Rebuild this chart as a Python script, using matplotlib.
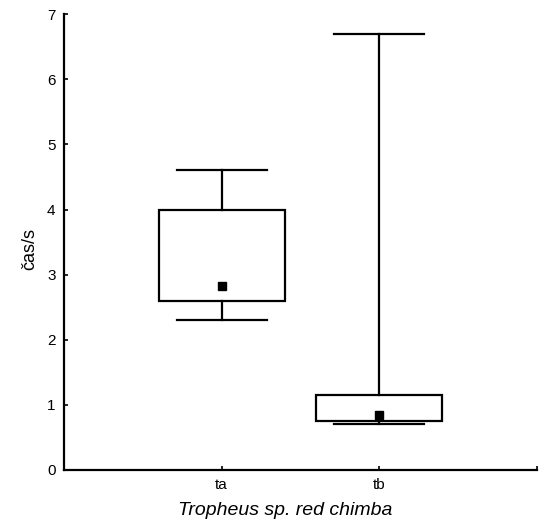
import matplotlib
matplotlib.use("Agg")
import matplotlib.pyplot as plt

plt.rcParams['font.family'] = ['Liberation Sans', 'DejaVu Sans']

groups = ["ta", "tb"]
whisker_low = [2.3, 0.7]
box_low = [2.6, 0.75]
median = [2.83, 0.84]
box_high = [4.0, 1.15]
whisker_high = [4.6, 6.7]

fig = plt.figure(figsize=(5.46, 5.26), dpi=100)
ax = fig.add_axes([0.117, 0.1065, 0.8665, 0.8665])

box_w = 0.8
cap_w = 0.57
lw = 1.6
for i, g in enumerate(groups):
    x = i + 1
    ax.add_patch(plt.Rectangle((x - box_w / 2, box_low[i]), box_w, box_high[i] - box_low[i],
                               fill=False, edgecolor='black', linewidth=lw, zorder=2))
    ax.plot([x, x], [box_high[i], whisker_high[i]], color='black', linewidth=lw, zorder=2)
    ax.plot([x, x], [whisker_low[i], box_low[i]], color='black', linewidth=lw, zorder=2)
    ax.plot([x - cap_w / 2, x + cap_w / 2], [whisker_high[i]] * 2, color='black', linewidth=lw, zorder=2)
    ax.plot([x - cap_w / 2, x + cap_w / 2], [whisker_low[i]] * 2, color='black', linewidth=lw, zorder=2)
    ax.plot([x], [median[i]], marker='s', markersize=5.5, color='black', linestyle='none', zorder=3)

ax.set_xlim(0, 3)
ax.set_ylim(0, 7)
ax.set_xticks([1, 2])
ax.set_xticklabels(groups)
ax.set_xticks([3], minor=True)
ax.set_yticks(range(0, 8))

for s in ['top', 'right']:
    ax.spines[s].set_visible(False)
for s in ['left', 'bottom']:
    ax.spines[s].set_linewidth(1.6)

ax.tick_params(axis='both', which='both', direction='in', length=3, width=1.2,
               labelsize=11, pad=6)
ax.set_ylabel("čas/s", fontsize=13, labelpad=6)
ax.set_xlabel("Tropheus sp. red chimba", fontsize=14, style='italic', labelpad=7)
ax.xaxis.label.set_x(0.468)
ax.yaxis.label.set_y(0.485)

fig.savefig("out.png", dpi=100)
